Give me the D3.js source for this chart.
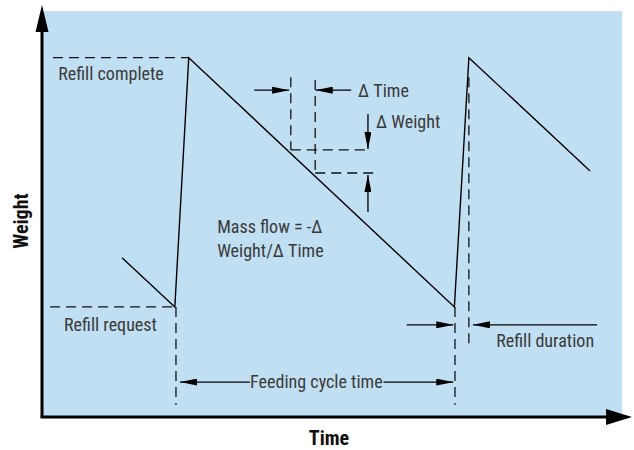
<!DOCTYPE html>
<html>
<head>
<meta charset="utf-8">
<script src="https://cdn.jsdelivr.net/npm/d3@7"></script>
<style>
  body { margin: 0; background: #fff; }
  svg text { font-family: "Roboto Condensed", "Liberation Sans Narrow", "Arial Narrow", Roboto, sans-serif; fill: #3a3a3a; }
</style>
</head>
<body>
<div id="myPlot"></div>
<script>
// Sawtooth weight curve (time, weight in % of plot box)
const cycleTime = [13.8, 22.9, 25.3, 71.1, 73.6, 94.5];
const cycleWeight = [39.2, 27.1, 88.5, 27.1, 88.5, 60.6];

// dashed guide lines [x1, y1, x2, y2]
const guideLines = [
  [1.9, 88.5, 25.3, 88.5],
  [1.4, 27.1, 22.9, 27.1],
  [23.1, 27.1, 23.1, 3.0],
  [71.2, 27.1, 71.2, 3.0],
  [73.6, 83.7, 73.6, 16.7],
  [42.9, 83.7, 42.9, 65.8],
  [47.1, 83.0, 47.1, 60.1],
  [42.9, 65.8, 56.2, 65.8],
  [47.1, 60.1, 57.1, 60.1]
];

// arrows [fromX, fromY, toX, toY]
const arrowLines = [
  [36.6, 80.5, 42.6, 80.5],
  [53.3, 80.5, 47.2, 80.5],
  [56.2, 74.6, 56.2, 66.0],
  [56.2, 50.5, 56.2, 59.6],
  [62.9, 22.7, 70.9, 22.7],
  [95.7, 22.7, 74.3, 22.7],
  [36.2, 8.6, 23.8, 8.6],
  [58.4, 8.6, 70.9, 8.6]
];

const labelText = ["Refill complete", "Refill request", "\u0394 Time", "\u0394 Weight",
  "Mass flow = -\u0394", "Weight/\u0394 Time", "Refill duration", "Feeding cycle time"];
const labelX = [2.8, 3.8, 54.5, 57.6, 30.2, 30.2, 78.3, 47.3];
const labelY = [83.0, 21.2, 78.8, 71.2, 45.3, 39.4, 17.2, 7.1];

const xTitle = "Time";
const yTitle = "Weight";

const width = 634, height = 450;
const plotLeft = 42, plotRight = 622, plotTop = 11, plotBottom = 417;
const bg = "#c0dff2";

const svg = d3.select("#myPlot").append("svg")
  .attr("width", width).attr("height", height);

const x = d3.scaleLinear().domain([0, 100]).range([plotLeft, plotRight]);
const y = d3.scaleLinear().domain([0, 100]).range([plotBottom, plotTop]);

// markers
const defs = svg.append("defs");
defs.append("marker")
  .attr("id", "arr")
  .attr("markerUnits", "userSpaceOnUse")
  .attr("viewBox", "0 0 17 7")
  .attr("refX", 17).attr("refY", 3.5)
  .attr("markerWidth", 17).attr("markerHeight", 7)
  .attr("orient", "auto")
  .append("path").attr("d", "M0,0 L17,3.5 L0,7 Z").attr("fill", "#000");

// background box
svg.append("rect")
  .attr("x", x(0)).attr("y", y(100))
  .attr("width", x(100) - x(0)).attr("height", y(0) - y(100))
  .attr("fill", bg);

// guides
svg.append("g").selectAll("line")
  .data(guideLines).enter()
  .append("line")
  .attr("x1", d => x(d[0])).attr("y1", d => y(d[1]))
  .attr("x2", d => x(d[2])).attr("y2", d => y(d[3]))
  .attr("stroke", "#111").attr("stroke-width", 1.3)
  .attr("stroke-dasharray", "10,6");

// arrows
svg.append("g").selectAll("line")
  .data(arrowLines).enter()
  .append("line")
  .attr("x1", d => x(d[0])).attr("y1", d => y(d[1]))
  .attr("x2", d => x(d[2])).attr("y2", d => y(d[3]))
  .attr("stroke", "#000").attr("stroke-width", 1.3)
  .attr("marker-end", "url(#arr)");

// the weight curve
const line = d3.line().x(d => x(d[0])).y(d => y(d[1]));
svg.append("path")
  .datum(cycleTime.map((t, i) => [t, cycleWeight[i]]))
  .attr("d", line)
  .attr("fill", "none").attr("stroke", "#000").attr("stroke-width", 1.4);

// labels (narrowed a bit to look like a condensed face)
svg.append("g").selectAll("text")
  .data(labelText).enter()
  .append("text")
  .attr("transform", (d, i) => "translate(" + x(labelX[i]) + "," + y(labelY[i]) + ") scale(0.95,1)")
  .attr("text-anchor", (d, i) => i == 7 ? "middle" : "start")
  .attr("font-size", 19)
  .style("stroke", (d, i) => i == 7 ? bg : "none")
  .style("stroke-width", 3)
  .style("paint-order", "stroke")
  .text(d => d);

// axes with arrowheads
svg.append("line")
  .attr("x1", x(0)).attr("y1", y(0)).attr("x2", x(0)).attr("y2", 30)
  .attr("stroke", "#000").attr("stroke-width", 3);
svg.append("path")
  .attr("d", "M" + (x(0) - 6.5) + ",32 L" + x(0) + ",5 L" + (x(0) + 6.5) + ",32 Z")
  .attr("fill", "#000");
svg.append("line")
  .attr("x1", x(0) - 1.5).attr("y1", y(0)).attr("x2", 608).attr("y2", y(0))
  .attr("stroke", "#000").attr("stroke-width", 3);
svg.append("path")
  .attr("d", "M606," + (y(0) - 8) + " L632," + y(0) + " L606," + (y(0) + 8) + " Z")
  .attr("fill", "#000");

svg.append("text")
  .attr("x", 329).attr("y", 445)
  .attr("text-anchor", "middle")
  .attr("font-size", 20).attr("font-weight", "bold")
  .style("fill", "#111")
  .text(xTitle);
svg.append("text")
  .attr("transform", "translate(28,221) rotate(-90)")
  .attr("text-anchor", "middle")
  .attr("font-size", 20).attr("font-weight", "bold")
  .style("fill", "#111")
  .text(yTitle);
</script>
</body>
</html>
